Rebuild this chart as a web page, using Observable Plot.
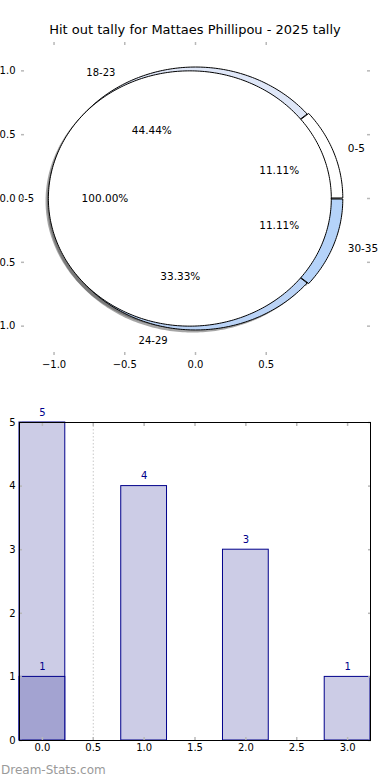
<!DOCTYPE html>
<html>
<head>
<meta charset="utf-8">
<script src="https://cdn.jsdelivr.net/npm/d3@7"></script>
<script src="https://cdn.jsdelivr.net/npm/@observablehq/plot@0.6"></script>
<style>
  html, body { margin: 0; padding: 0; background: #fff; }
  #wrap { position: relative; width: 390px; height: 780px; overflow: hidden; font-family: "DejaVu Sans", sans-serif; }
  #pie, #bars { position: absolute; left: 0; }
  #pie { top: 0; }
  #bars { top: 395px; }
  #title { position: absolute; top: 22px; left: 0; width: 390px; text-align: center; font-size: 13px; line-height: 16px; color: #000; }
  #mark { position: absolute; top: 763px; left: 1px; font-size: 12px; line-height: 14px; color: #9a9a9a; }
</style>
</head>
<body>
<div id="wrap">
  <div id="pie"></div>
  <div id="bars"></div>
  <div id="title"></div>
  <div id="mark"></div>
</div>
<script>
const title = "Hit out tally for Mattaes Phillipou - 2025 tally";
const watermark = "Dream-Stats.com";

const outerLabels = ["0-5", "18-23", "24-29", "30-35"];
const outerValues = [1, 4, 3, 1];
const outerColors = ["#ffffff", "#dfe7f8", "#bad3f6", "#b5d3f9"];
const outerExplode = [0.012, 0, 0, 0.012];

const innerLabels = ["0-5"];
const innerValues = [1];
const innerColors = ["#ffffff"];
const innerExplode = [0.04];

const pieXTicks = [-1, -0.5, 0, 0.5];
const pieYTicks = [-1, -0.5, 0, 0.5, 1];

const barCats = [0, 1, 2, 3];
const barValues = [5, 4, 3, 1];
const highlightCats = [0];
const highlightValues = [1];
const barXTicks = [0, 0.5, 1, 1.5, 2, 2.5, 3];
const barYTicks = [0, 1, 2, 3, 4, 5];

document.getElementById("title").textContent = title;
document.getElementById("mark").textContent = watermark;

const rad = Math.PI / 180;
function pieShapes(labels, values, colors, explode, radius) {
  const total = d3.sum(values);
  let a = 0;
  return values.map((v, i) => {
    const a0 = a, a1 = a + 360 * v / total; a = a1;
    const mid = (a0 + a1) / 2 * rad;
    const cx = explode[i] * Math.cos(mid), cy = explode[i] * Math.sin(mid);
    const pts = [];
    const full = v === total;
    if (!full) pts.push([cx, cy]);
    const n = Math.ceil(a1 - a0);
    for (let k = 0; k <= n; k++) {
      const t = (a0 + (a1 - a0) * k / n) * rad;
      pts.push([cx + radius * Math.cos(t), cy + radius * Math.sin(t)]);
    }
    pts.push(pts[0]);
    const lx = cx + 1.1 * radius * Math.cos(mid);
    return {
      label: labels[i],
      pct: (100 * v / total).toFixed(2) + "%",
      color: colors[i],
      pts,
      lx, ly: cy + 1.1 * radius * Math.sin(mid),
      px: cx + 0.6 * radius * Math.cos(mid), py: cy + 0.6 * radius * Math.sin(mid),
      right: lx > 0
    };
  });
}

const outer = pieShapes(outerLabels, outerValues, outerColors, outerExplode, 1.03);
const inner = pieShapes(innerLabels, innerValues, innerColors, innerExplode, 1.0);
const all = outer.concat(inner);

const fmt = d => (d < 0 ? "\u2212" : "") + Math.abs(d).toFixed(1);
const tickGray = "#b8b8b8";

const pieMarks = [];
all.forEach(s => pieMarks.push(Plot.line(s.pts, {x: d => d[0] - 0.02, y: d => d[1] - 0.02, fill: "#4d4d4d", fillOpacity: 0.5, stroke: "none"})));
outer.forEach(s => pieMarks.push(Plot.line(s.pts, {x: d => d[0], y: d => d[1], fill: s.color, stroke: "#000", strokeWidth: 1})));
inner.forEach(s => pieMarks.push(Plot.line(s.pts, {x: d => d[0], y: d => d[1], fill: s.color, stroke: "#000", strokeWidth: 1})));

const pie = Plot.plot({
  width: 390, height: 385,
  marginTop: 41, marginBottom: 30, marginLeft: 21, marginRight: 21,
  x: {domain: [-1.23, 1.23], label: null},
  y: {domain: [-1.23, 1.23], label: null},
  style: {fontFamily: "DejaVu Sans, sans-serif", fontSize: "10px", background: "transparent", color: "#000", overflow: "visible"},
  marks: [
    ...pieMarks,
    Plot.text(all.filter(s => s.right), {x: "lx", y: "ly", text: "label", textAnchor: "start", fill: "#000", fontSize: 10.5}),
    Plot.text(all.filter(s => !s.right), {x: "lx", y: "ly", text: "label", textAnchor: "end", fill: "#000", fontSize: 10}),
    Plot.text(all, {x: "px", y: "py", text: "pct", fill: "#000", fontSize: 10.5}),
    Plot.axisX(pieXTicks, {anchor: "bottom", label: null, tickSize: 0, tickPadding: 5, tickFormat: fmt, fill: "#000"}),
    Plot.axisY(pieYTicks, {anchor: "left", label: null, tickSize: 0, tickPadding: 6, tickFormat: fmt, fill: "#000"}),
    Plot.axisX(pieXTicks, {anchor: "bottom", label: null, tickSize: -3, tickFormat: () => "", stroke: tickGray, strokeWidth: 1.5}),
    Plot.axisX(pieXTicks, {anchor: "top", label: null, tickSize: -3, tickFormat: () => "", stroke: tickGray, strokeWidth: 1.5}),
    Plot.axisY(pieYTicks, {anchor: "left", label: null, tickSize: -3, tickFormat: () => "", stroke: tickGray, strokeWidth: 1.5}),
    Plot.axisY(pieYTicks, {anchor: "right", label: null, tickSize: -3, tickFormat: () => "", stroke: tickGray, strokeWidth: 1.5})
  ]
});
document.getElementById("pie").appendChild(pie);

const barData = barCats.map((c, i) => ({x: c, v: barValues[i]}));
const hiData = highlightCats.map((c, i) => ({x: c, v: highlightValues[i]}));
const navy = "#00008b";

const bars = Plot.plot({
  width: 390, height: 375,
  marginTop: 27, marginBottom: 30, marginLeft: 19, marginRight: 20,
  x: {domain: [-0.225, 3.225], label: null},
  y: {domain: [0, 5], label: null},
  style: {fontFamily: "DejaVu Sans, sans-serif", fontSize: "10px", background: "transparent", color: "#000", overflow: "visible"},
  marks: [
    Plot.ruleX([0.5], {stroke: "#c8c8c8", strokeDasharray: "1.5,2"}),
    Plot.rect(barData, {x1: d => d.x - 0.225, x2: d => d.x + 0.225, y1: 0, y2: "v", fill: "#ccccE6", stroke: navy, strokeWidth: 1}),
    Plot.rect(hiData, {x1: d => d.x - 0.225, x2: d => d.x + 0.225, y1: 0, y2: "v", fill: "#a3a3d1", stroke: navy, strokeWidth: 1}),
    Plot.text(barData, {x: "x", y: "v", text: d => String(d.v), dy: -10, fill: navy}),
    Plot.text(hiData, {x: "x", y: "v", text: d => String(d.v), dy: -10, fill: navy}),
    Plot.axisX(barXTicks, {anchor: "bottom", label: null, tickSize: 0, tickPadding: 3, tickFormat: d => d.toFixed(1), fill: "#000"}),
    Plot.axisY(barYTicks, {anchor: "left", label: null, tickSize: 0, tickPadding: 4, tickFormat: d => String(d), fill: "#000"}),
    Plot.axisX(barXTicks, {anchor: "bottom", label: null, tickSize: -3, tickFormat: () => "", stroke: tickGray, strokeWidth: 1.5}),
    Plot.axisX(barXTicks, {anchor: "top", label: null, tickSize: -3, tickFormat: () => "", stroke: tickGray, strokeWidth: 1.5}),
    Plot.axisY(barYTicks, {anchor: "left", label: null, tickSize: -3, tickFormat: () => "", stroke: tickGray, strokeWidth: 1.5}),
    Plot.axisY(barYTicks, {anchor: "right", label: null, tickSize: -3, tickFormat: () => "", stroke: tickGray, strokeWidth: 1.5}),
    Plot.frame({stroke: "#000", strokeWidth: 1})
  ]
});
document.getElementById("bars").appendChild(bars);
</script>
</body>
</html>
